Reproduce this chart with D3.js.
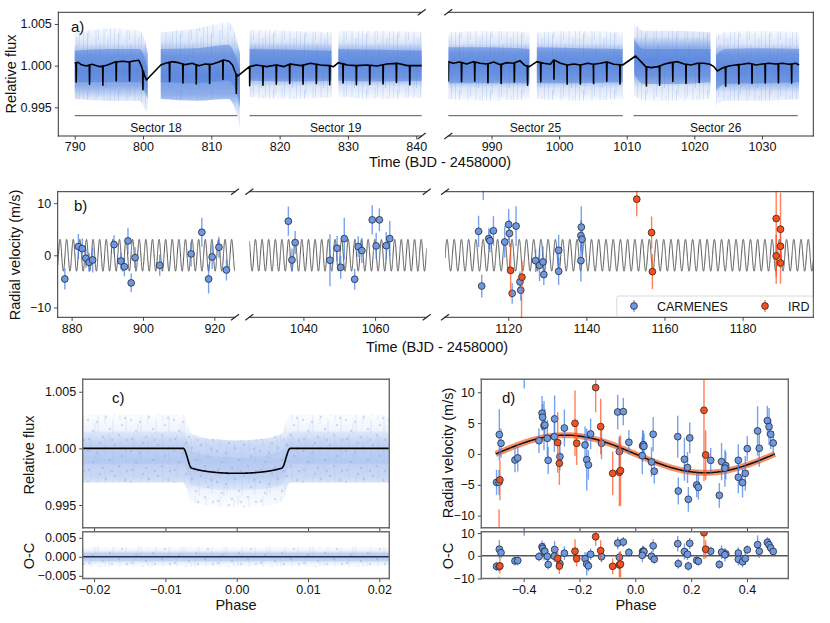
<!DOCTYPE html>
<html>
<head>
<meta charset="utf-8">
<script src="https://cdn.jsdelivr.net/npm/d3@7"></script>
<style>
  body { margin: 0; background: #fff; }
  svg { font-family: "Liberation Sans", Arial, Helvetica, sans-serif; }
</style>
</head>
<body>
<svg id="chart" width="830" height="623"></svg>
<script>
// ---------------- data ----------------

// a) TESS light curve
const lcDomains = [[787.6, 840.8], [983.6, 1037.6]];
const lcTicks = [[790, 800, 810, 820, 830, 840], [990, 1000, 1010, 1020, 1030]];
const fluxTicks = [0.995, 1.000, 1.005];

const sectorNames = ["Sector 18", "Sector 19", "Sector 25", "Sector 26"];
const sectorStart = [790.0, 815.6, 983.6, 1011.0];
const sectorEnd = [813.8, 842.0, 1009.4, 1035.3];

// envelope of the photometry: [time, hazeLo, coreLo, coreHi, hazeHi]
const cloud18a = [[790.0, .9960, .9980, 1.0018, 1.0040], [795.0, .9958, .9980, 1.0020, 1.0045], [799.5, .9958, .9980, 1.0020, 1.0042], [800.3, .9948, .9968, 1.0008, 1.0030], [800.7, .9943, .9960, .9995, 1.0015]];
const cloud18b = [[802.6, .9960, .9980, 1.0020, 1.0040], [808.0, .9958, .9979, 1.0021, 1.0045], [812.5, .9960, .9982, 1.0025, 1.0052], [813.6, .9945, .9970, 1.0010, 1.0035], [814.2, .9925, .9950, .9995, 1.0015]];
const cloud19a = [[815.6, .9962, .9982, 1.0020, 1.0043], [821.5, .9960, .9981, 1.0019, 1.0042], [827.6, .9962, .9982, 1.0018, 1.0040]];
const cloud19b = [[828.6, .9962, .9982, 1.0020, 1.0042], [835.0, .9960, .9981, 1.0019, 1.0042], [841.5, .9962, .9982, 1.0018, 1.0040]];
const cloud25a = [[983.6, .9960, .9979, 1.0022, 1.0040], [989.5, .9958, .9979, 1.0022, 1.0042], [995.6, .9960, .9979, 1.0020, 1.0040]];
const cloud25b = [[996.7, .9960, .9979, 1.0022, 1.0040], [1003.0, .9958, .9979, 1.0021, 1.0042], [1009.4, .9960, .9980, 1.0020, 1.0040]];
const cloud26a = [[1011.1, .9965, .9990, 1.0032, 1.0052], [1012.5, .9958, .9978, 1.0020, 1.0042], [1017.0, .9958, .9978, 1.0020, 1.0042], [1022.4, .9960, .9980, 1.0020, 1.0040]];
const cloud26b = [[1023.2, .9952, .9970, 1.0012, 1.0035], [1024.5, .9958, .9978, 1.0020, 1.0040], [1030.0, .9958, .9979, 1.0021, 1.0042], [1035.5, .9960, .9980, 1.0020, 1.0040]];
const cloudParts = [[cloud18a, cloud18b, cloud19a, cloud19b], [cloud25a, cloud25b, cloud26a, cloud26b]];

// model baseline (black line) knots
const baseLeftT = [790.0, 790.5, 791.0, 791.7, 792.5, 793.7, 794.7, 795.9, 797.1, 797.9, 798.6, 799.4, 799.8, 800.2, 800.5, 802.6, 803.3, 804.2, 805.2, 806.2, 807.2, 808.2, 809.1, 810.1, 811.1, 811.8, 812.6, 813.1, 813.6, 813.9, 815.6, 816.6, 818.1, 819.6, 820.6, 821.6, 823.1, 824.5, 826.0, 827.4, 827.9, 828.6, 829.9, 831.3, 832.8, 834.3, 835.7, 837.2, 838.7, 840.1, 841.5];
const baseLeftF = [1.0003, 1.0004, 1.0001, 0.99996, 1.00016, 0.99988, 1.00004, 1.00044, 1.00052, 1.00044, 1.00056, 1.00064, 0.99988, 0.99888, 0.99828, 1.00008, 1.00028, 1.00048, 1.00036, 1.00012, 1.00028, 1.0, 1.0002, 1.00016, 1.00044, 1.00068, 1.00052, 1.00008, 0.999, 0.99876, 0.99988, 1.00008, 0.99988, 1.00008, 0.99988, 1.0002, 1.0, 1.00028, 1.00008, 1.0, 0.99988, 1.00036, 1.00008, 1.0, 1.00008, 0.99996, 1.0002, 1.00028, 1.0, 1.0, 1.0];
const baseRightT = [983.6, 984.3, 985.3, 986.3, 987.3, 988.3, 989.3, 990.3, 991.3, 992.2, 993.2, 994.2, 994.9, 995.6, 996.7, 997.7, 998.7, 999.2, 1000.2, 1001.2, 1002.2, 1003.2, 1004.2, 1005.1, 1006.1, 1007.1, 1008.1, 1009.4, 1011.3, 1012.1, 1012.8, 1013.6, 1014.6, 1015.5, 1016.5, 1017.5, 1018.5, 1019.5, 1020.5, 1021.4, 1022.3, 1022.9, 1023.4, 1024.1, 1025.1, 1026.1, 1027.1, 1028.1, 1029.1, 1030.1, 1031.0, 1032.0, 1033.0, 1034.0, 1035.0, 1035.5];
const baseRightF = [1.00048, 1.00028, 1.00044, 1.0002, 1.00048, 1.00028, 1.0002, 1.00044, 1.00012, 1.00036, 1.00028, 1.0006, 1.00004, 0.99988, 1.00048, 1.00028, 1.00016, 1.00068, 1.00028, 1.00008, 1.0002, 1.00008, 1.00028, 1.00016, 1.00028, 1.00044, 1.00016, 1.00008, 1.00116, 1.00048, 0.99988, 0.99976, 0.99988, 1.00016, 1.00036, 1.00048, 1.0002, 1.00008, 1.00028, 1.00028, 1.00016, 0.99988, 0.99936, 0.99968, 0.99996, 1.00008, 1.00016, 1.00028, 1.00008, 1.0002, 1.00028, 1.0002, 1.00028, 1.00016, 1.00028, 1.00008];

// transit ephemeris of the model line and depth
const transitT0 = 790.22;
const transitPeriod = 1.9534;
const transitDepth = 0.0023;

// b) RV time series
const rvDomains = [[876.1, 925.8], [1024.9, 1074.4], [1103.8, 1198.1]];
const rvTicks = [[880, 900, 920], [1040, 1060], [1120, 1140, 1160, 1180]];
const rvYTicks = [-10, 0, 10];

const carmT = [878.1, 881.9, 883.0, 884.0, 884.9, 885.9, 891.9, 893.8, 894.8, 895.8, 896.7, 897.8, 904.7, 913.5, 916.5, 918.4, 919.4, 921.3, 923.4,
  1035.8, 1036.8, 1037.7, 1047.4, 1049.4, 1050.4, 1051.4, 1054.3, 1055.3, 1056.3, 1059.2, 1060.3, 1061.2, 1063.1, 1064.1,
  1112.4, 1113.2, 1113.6, 1115.0, 1115.3, 1116.2, 1119.1, 1120.1, 1120.3, 1121.0, 1122.0, 1123.0, 1123.2, 1127.0, 1128.0, 1128.9, 1129.1, 1132.9, 1132.9, 1138.7, 1138.6, 1138.9, 1138.6];
const carmV = [-4.55, 1.67, 1.28, -0.58, -1.35, -0.9, 2.05, -1.1, -2.2, 2.76, -5.3, -0.45, -1.92, 0.26, 4.42, -4.55, -0.32, 1.54, -2.82,
  6.54, -0.9, 2.44, -0.96, 1.35, -2.3, 3.2, -4.6, 1.67, 0.9, 6.8, 1.8, 6.8, 1.85, 3.2,
  4.6, -5.9, 14.0, 3.2, 2.8, 4.7, 2.56, 5.9, 4.2, -7.3, 5.6, -5.1, -6.7, -1.03, -1.92, -1.28, -3.7, 0.96, -3.08, 5.4, 3.78, 3.08, -1.03];
const carmE = [2.0, 2.4, 2.0, 1.8, 1.8, 2.4, 1.8, 1.6, 1.8, 2.5, 1.8, 2.0, 2.0, 2.4, 2.8, 2.8, 2.3, 2.0, 2.0,
  2.8, 2.2, 2.2, 5.0, 2.4, 2.2, 4.0, 2.0, 2.0, 2.4, 2.8, 2.5, 2.2, 2.6, 3.4,
  3.0, 2.2, 3.4, 2.0, 2.2, 2.8, 3.0, 3.0, 2.6, 2.0, 3.8, 2.0, 2.0, 2.2, 3.0, 3.0, 2.0, 3.0, 2.6, 4.0, 3.0, 3.0, 4.0];

const irdT = [1120.6, 1123.5, 1123.4, 1152.9, 1156.7, 1156.9, 1188.6, 1189.7, 1189.7, 1188.6, 1189.7];
const irdV = [-2.9, -4.2, -15.0, 10.77, 4.36, -3.14, 7.05, 5.0, 1.73, -0.13, -1.48];
const irdE = [5.2, 3.2, 7.5, 3.3, 3.1, 3.4, 12.5, 7.0, 4.0, 4.0, 4.0];

// Keplerian model (as drawn in b, d)
const rvK = 3.05;
const rvShownPeriod = 1.85;
const rvT0 = 880.0;

// c) phase-folded transit
const cDomain = [-0.0216, 0.0214];
const cTicks = [-0.02, -0.01, 0.00, 0.01, 0.02];
const cResTicks = [-0.005, 0.000, 0.005];
const cBandPhase = [-0.0216, -0.0075, -0.0063, -0.003, 0, 0.003, 0.0063, 0.0075, 0.0214];
const cCoreHi = [1.0015, 1.0015, 0.9998, 0.9993, 0.9992, 0.9993, 0.9998, 1.0015, 1.0015];
const cCoreLo = [0.9986, 0.9986, 0.9968, 0.9964, 0.9963, 0.9964, 0.9968, 0.9986, 0.9986];
const cHazeHi = [1.0030, 1.0030, 1.0013, 1.0008, 1.0007, 1.0008, 1.0013, 1.0030, 1.0030];
const cHazeLo = [0.9970, 0.9970, 0.9953, 0.9949, 0.9948, 0.9949, 0.9953, 0.9970, 0.9970];
const cResPhase = [-0.0216, 0.0214];
const cResCore = [-0.0011, 0.0011];
const cResHaze = [-0.0026, 0.0026];
// transit shape: depth at centre, half T14, half T23, limb darkening
const trDepth = 0.0022;
const trHalf14 = 0.0075;
const trHalf23 = 0.0063;
const trLimb = 0.45;

// d) phase-folded RVs
const dTicks = [-0.4, -0.2, 0.0, 0.2, 0.4];
const dYTicks = [-10, -5, 0, 5, 10];
const dResTicks = [-10, 0, 10];
const dPhaseC = [-0.497, -0.488, -0.487, -0.481, -0.431, -0.421, -0.398, -0.345, -0.334, -0.332, -0.327, -0.324, -0.315, -0.312, -0.289, -0.290, -0.270, -0.254, -0.180, -0.174, -0.168, -0.160, -0.121, -0.063, -0.057, -0.043, -0.023, 0.026, 0.029, 0.031, 0.025, 0.058, 0.068, 0.064, 0.152, 0.154, 0.176, 0.187, 0.190, 0.195, 0.220, 0.226, 0.270, 0.301, 0.309, 0.324, 0.321, 0.369, 0.369, 0.384, 0.394, 0.401, 0.438, 0.444, 0.473, 0.479, 0.485, 0.494];
const dRvC = [-4.6, -4.6, 3.14, 1.73, -0.97, -0.65, 14.0, 2.16, 6.6, 5.95, 4.6, 4.7, 2.54, -1.03, 5.68, 2.8, -0.43, 4.2, 1.46, -0.92, -1.78, 3.24, 1.73, 6.8, 0.38, 6.86, 1.89, 1.3, 1.51, 1.24, -0.27, -1.3, -2.8, 3.19, 2.8, -6.0, -0.86, -2.2, -7.35, 2.6, -5.03, -5.4, -1.03, -6.7, -1.24, -1.9, -2.3, -1.03, -3.78, -4.65, -3.14, 0.86, 3.73, 0.92, 5.4, 4.43, 3.19, 1.78];
const dErrC = [2.0, 2.0, 4.1, 2.4, 2.0, 2.2, 3.4, 2.0, 2.8, 2.2, 4.0, 2.6, 3.0, 2.2, 3.8, 2.5, 2.2, 3.0, 3.0, 5.0, 2.4, 2.5, 2.6, 2.8, 2.5, 2.2, 2.0, 2.6, 2.2, 2.0, 3.0, 2.4, 2.0, 2.8, 3.4, 2.2, 3.5, 2.5, 2.0, 2.5, 2.0, 2.0, 2.0, 2.0, 3.0, 2.2, 3.0, 2.6, 2.6, 2.4, 2.8, 2.0, 4.0, 3.0, 2.4, 3.0, 2.4, 2.0];
const dPhaseI = [-0.488, -0.485, -0.278, -0.272, -0.216, -0.210, -0.142, -0.124, -0.081, -0.057, -0.053, 0.246, 0.252];
const dRvI = [-15.0, -4.2, 1.84, -1.51, 4.97, 1.73, 10.76, 4.43, -3.14, -2.97, -2.7, 7.08, -0.16];
const dErrI = [6.0, 3.3, 4.9, 3.5, 5.3, 3.5, 4.0, 4.5, 3.5, 5.5, 5.7, 11.5, 4.0];

// ---------------- drawing ----------------
const svg = d3.select("#chart");
const blueFill = "#6c98e4", blueBar = "#3f7be8";
const redFill = "#f4511e", redBar = "#ff4a14";
const tickFont = "12.5px", labelFont = "14.5px";

// soft fill styles for the dense photometry
const defs = svg.append("defs");
function fadeGradient(id, color, peak) {
  const gr = defs.append("linearGradient").attr("id", id)
    .attr("x1", 0).attr("y1", 0).attr("x2", 0).attr("y2", 1);
  [[0, 0.04], [0.18, 0.25], [0.32, 0.8], [0.5, 1], [0.68, 0.8], [0.82, 0.25], [1, 0.04]].forEach(([o, k]) =>
    gr.append("stop").attr("offset", o).attr("stop-color", color).attr("stop-opacity", peak * k));
}
fadeGradient("hazeA", "#4f80de", 0.8);
fadeGradient("hazeC", "#6f97e2", 0.45);

// irregular vertical "error bar" texture for panel a
const strokesA = defs.append("pattern").attr("id", "strokesA").attr("patternUnits", "userSpaceOnUse")
  .attr("width", 31).attr("height", 57);
[[1, 0, 22], [3, 30, 57], [5.5, 8, 40], [7, 44, 57], [9.5, 0, 17], [11, 21, 50], [13.5, 5, 31],
 [15, 38, 57], [17.5, 14, 46], [19, 0, 9], [21.5, 26, 54], [23, 3, 24], [25.5, 33, 57], [27, 10, 38], [29.5, 45, 57], [29.5, 0, 20]]
  .forEach(([x, y1, y2], i) =>
    strokesA.append("line").attr("x1", x).attr("x2", x).attr("y1", y1).attr("y2", y2)
      .attr("stroke", i % 3 ? "#7ea3ea" : "#5b88de").attr("stroke-width", 0.8).attr("stroke-opacity", 0.32));

// speckled texture for panel c
const dotsC = defs.append("pattern").attr("id", "dotsC").attr("patternUnits", "userSpaceOnUse")
  .attr("width", 43).attr("height", 31);
[[3, 5], [11, 19], [17, 3], [24, 26], [29, 11], [36, 22], [41, 6], [7, 28], [20, 14], [33, 1], [14, 9], [39, 15], [26, 6], [2, 17]]
  .forEach(([x, y]) =>
    dotsC.append("circle").attr("cx", x).attr("cy", y).attr("r", 1.2).attr("fill", "#6f97e2").attr("fill-opacity", 0.3));
[[5, 0, 13], [12, 10, 29], [19, 4, 21], [27, 16, 31], [34, 2, 18], [40, 12, 29], [9, 20, 31], [23, 0, 9]]
  .forEach(([x, y1, y2]) =>
    dotsC.append("line").attr("x1", x).attr("x2", x).attr("y1", y1).attr("y2", y2)
      .attr("stroke", "#9ab8ee").attr("stroke-width", 0.8).attr("stroke-opacity", 0.35));

let clipCount = 0;
function makeClip(x0, y0, x1, y1) {
  const id = "clip" + (clipCount++);
  svg.append("clipPath").attr("id", id).append("rect")
    .attr("x", x0).attr("y", y0).attr("width", x1 - x0).attr("height", y1 - y0);
  return "url(#" + id + ")";
}

function spines(x0, x1, y0, y1, sides, color, width) {
  const g = svg.append("g").attr("stroke", color).attr("stroke-width", width).attr("stroke-linecap", "square");
  if (sides.includes("t")) g.append("line").attr("x1", x0).attr("x2", x1).attr("y1", y0).attr("y2", y0);
  if (sides.includes("b")) g.append("line").attr("x1", x0).attr("x2", x1).attr("y1", y1).attr("y2", y1);
  if (sides.includes("l")) g.append("line").attr("x1", x0).attr("x2", x0).attr("y1", y0).attr("y2", y1);
  if (sides.includes("r")) g.append("line").attr("x1", x1).attr("x2", x1).attr("y1", y0).attr("y2", y1);
}

function breakMark(x, y) {
  svg.append("line")
    .attr("x1", x - 4).attr("y1", y + 3).attr("x2", x + 4).attr("y2", y - 3)
    .attr("stroke", "#222").attr("stroke-width", 1.1);
}

function styleAxis(g, labels) {
  g.select(".domain").remove();
  g.selectAll(".tick line").attr("stroke", "#333").attr("stroke-width", 0.9);
  g.selectAll(".tick text").attr("fill", "#111").style("font-size", tickFont)
    .style("font-family", '"Liberation Sans", Arial, sans-serif');
  if (!labels) g.selectAll(".tick text").remove();
}

function xAxis(scale, y, ticks, fmt, labels = true) {
  const g = svg.append("g").attr("transform", `translate(0,${y})`)
    .call(d3.axisBottom(scale).tickValues(ticks).tickFormat(fmt).tickSize(3.5).tickPadding(3));
  styleAxis(g, labels);
}

function yAxis(scale, x, ticks, fmt) {
  const g = svg.append("g").attr("transform", `translate(${x},0)`)
    .call(d3.axisLeft(scale).tickValues(ticks).tickFormat(fmt).tickSize(3.5).tickPadding(3));
  styleAxis(g, true);
}

function text(x, y, s, size, anchor = "middle", rotate = false) {
  const t = svg.append("text").attr("x", x).attr("y", y).text(s)
    .attr("text-anchor", anchor).style("font-size", size).attr("fill", "#111");
  if (rotate) t.attr("transform", `rotate(-90,${x},${y})`);
  return t;
}

function errorPoints(g, xs, ys, es, x, y, fill, bar) {
  const idx = d3.range(xs.length);
  g.append("g").selectAll("line").data(idx).join("line")
    .attr("x1", i => x(xs[i])).attr("x2", i => x(xs[i]))
    .attr("y1", i => y(ys[i] - es[i])).attr("y2", i => y(ys[i] + es[i]))
    .attr("stroke", bar).attr("stroke-width", 1.4).attr("stroke-opacity", 0.7);
  g.append("g").selectAll("circle").data(idx).join("circle")
    .attr("cx", i => x(xs[i])).attr("cy", i => y(ys[i])).attr("r", 3.4)
    .attr("fill", fill).attr("stroke", "#2a2a2a").attr("stroke-width", 0.8);
}

// ===== panel a =====
const aTop = 12.3, aBottom = 136;
const aRanges = [[58.3, 421.7], [448.3, 813.3]];
const yA = d3.scaleLinear().domain([0.99156, 1.0064]).range([aBottom, aTop]);
const baseT = [baseLeftT, baseRightT], baseF = [baseLeftF, baseRightF];

aRanges.forEach((r, p) => {
  const x = d3.scaleLinear().domain(lcDomains[p]).range(r);
  const g = svg.append("g").attr("clip-path", makeClip(r[0], aTop, r[1], aBottom));

  // photometry cloud
  cloudParts[p].forEach(seg => {
    const haze = d3.area().x(d => x(d[0])).y0(d => yA(d[1])).y1(d => yA(d[4])).curve(d3.curveMonotoneX);
    g.append("path").datum(seg).attr("d", haze).attr("fill", "url(#hazeA)");
    g.append("path").datum(seg).attr("d", haze).attr("fill", "url(#strokesA)");
    g.append("path").datum(seg)
      .attr("d", d3.area().x(d => x(d[0])).y0(d => yA(d[2])).y1(d => yA(d[3])).curve(d3.curveMonotoneX))
      .attr("fill", "#4677d8").attr("fill-opacity", 0.45);
  });

  // model: baseline knots plus transit dips inside observed windows
  const base = d3.scaleLinear().domain(baseT[p]).range(baseF[p]);
  const pts = baseT[p].map((t, i) => [t, baseF[p][i]]);
  const nLo = Math.ceil((lcDomains[p][0] - transitT0) / transitPeriod);
  const nHi = Math.floor((lcDomains[p][1] + 1 - transitT0) / transitPeriod);
  for (let n = nLo; n <= nHi; n++) {
    const tc = transitT0 + n * transitPeriod;
    const inside = cloudParts[p].some(s => tc >= s[0][0] - 0.05 && tc <= s[s.length - 1][0] + 0.05);
    if (!inside) continue;
    const b = base(tc);
    pts.push([tc - 0.04, b], [tc, b - transitDepth], [tc + 0.04, b]);
  }
  pts.sort((a, b) => a[0] - b[0]);
  g.append("path").datum(pts)
    .attr("d", d3.line().x(d => x(d[0])).y(d => yA(d[1])))
    .attr("fill", "none").attr("stroke", "#000").attr("stroke-width", 1.6).attr("stroke-linejoin", "round");

  // sector bars
  sectorNames.forEach((name, i) => {
    const s = Math.max(sectorStart[i], lcDomains[p][0]), e = Math.min(sectorEnd[i], lcDomains[p][1]);
    if (e <= s) return;
    svg.append("line").attr("x1", x(sectorStart[i])).attr("x2", Math.min(x(sectorEnd[i]), r[1]))
      .attr("y1", 115.7).attr("y2", 115.7).attr("stroke", "#555").attr("stroke-width", 1);
    text(x((s + e) / 2), 132.3, name, "12px");
  });

  xAxis(x, aBottom, lcTicks[p], d3.format("d"));
  spines(r[0], r[1], aTop, aBottom, p === 0 ? "tbl" : "tbr", "#333", 1);
});
yAxis(yA, aRanges[0][0], fluxTicks, d3.format(".3f"));
breakMark(aRanges[0][1], aTop); breakMark(aRanges[0][1], aBottom);
breakMark(aRanges[1][0], aTop); breakMark(aRanges[1][0], aBottom);
text(16, 74, "Relative flux", labelFont, "middle", true);
text(440, 167, "Time (BJD - 2458000)", labelFont);
text(71, 32, "a)", "15px", "start");

// ===== panel b =====
const bTop = 191.7, bBottom = 317.3;
const bRanges = [[57.7, 235], [249.3, 426.7], [445, 813.3]];
const yB = d3.scaleLinear().domain([-11.9, 12.2]).range([bBottom, bTop]);

bRanges.forEach((r, p) => {
  const x = d3.scaleLinear().domain(rvDomains[p]).range(r);
  const g = svg.append("g").attr("clip-path", makeClip(r[0], bTop - 1, r[1], bBottom + 1));
  const ts = d3.range(rvDomains[p][0], rvDomains[p][1], 0.02);
  g.append("path").datum(ts)
    .attr("d", d3.line().x(t => x(t)).y(t => yB(rvK * Math.sin(2 * Math.PI * (t - rvT0) / rvShownPeriod))))
    .attr("fill", "none").attr("stroke", "#555").attr("stroke-width", 1);
  const inC = d3.range(carmT.length).filter(i => carmT[i] >= rvDomains[p][0] && carmT[i] <= rvDomains[p][1]);
  errorPoints(g, inC.map(i => carmT[i]), inC.map(i => carmV[i]), inC.map(i => carmE[i]), x, yB, blueFill, blueBar);
  const inI = d3.range(irdT.length).filter(i => irdT[i] >= rvDomains[p][0] && irdT[i] <= rvDomains[p][1]);
  errorPoints(g, inI.map(i => irdT[i]), inI.map(i => irdV[i]), inI.map(i => irdE[i]), x, yB, redFill, redBar);

  xAxis(x, bBottom, rvTicks[p], d3.format("d"));
  const sides = p === 0 ? "tbl" : p === 1 ? "tb" : "tbr";
  spines(r[0], r[1], bTop, bBottom, sides, "#333", 1);
  if (p < 2) { breakMark(r[1], bTop); breakMark(r[1], bBottom); }
  if (p > 0) { breakMark(r[0], bTop); breakMark(r[0], bBottom); }
});
yAxis(yB, bRanges[0][0], rvYTicks, d3.format("d"));
text(20, 255, "Radial velocity (m/s)", labelFont, "middle", true);
text(437, 352, "Time (BJD - 2458000)", labelFont);
text(74, 211, "b)", "15px", "start");

// legend
const lg = svg.append("g");
lg.append("rect").attr("x", 616.7).attr("y", 296).attr("width", 196).attr("height", 20.5)
  .attr("rx", 2).attr("fill", "#fff").attr("fill-opacity", 0.85).attr("stroke", "#d0d0d0").attr("stroke-width", 0.8);
[[634, "CARMENES", blueFill, blueBar], [765, "IRD", redFill, redBar]].forEach(([lx, name, f, b]) => {
  lg.append("line").attr("x1", lx).attr("x2", lx).attr("y1", 300).attr("y2", 312).attr("stroke", b).attr("stroke-width", 1.4).attr("stroke-opacity", 0.7);
  lg.append("circle").attr("cx", lx).attr("cy", 306).attr("r", 3.4).attr("fill", f).attr("stroke", "#2a2a2a").attr("stroke-width", 0.8);
  lg.append("text").attr("x", lx + 23).attr("y", 310.5).text(name).style("font-size", "12.5px").attr("fill", "#111");
});

// ===== panel c =====
const cLeft = 82.7, cRight = 389.3, mTop = 379.3, mBottom = 527.7, rTop = 531.7, rBottom = 578.5;
const xC = d3.scaleLinear().domain(cDomain).range([cLeft, cRight]);
const yC = d3.scaleLinear().domain([0.993, 1.0061]).range([mBottom, mTop]);
const yCr = d3.scaleLinear().domain([-0.0057, 0.0066]).range([rBottom, rTop]);

function transitModel(ph) {
  const a = Math.abs(ph);
  if (a >= trHalf14) return 1;
  const inner = z => 1 - trDepth * (1 - trLimb * (1 - Math.sqrt(Math.max(0, 1 - (z / trHalf14) ** 2))));
  if (a <= trHalf23) return inner(a);
  const s = (trHalf14 - a) / (trHalf14 - trHalf23);
  const sm = s * s * (3 - 2 * s);
  return 1 - (1 - inner(trHalf23)) * sm;
}

const gc = svg.append("g").attr("clip-path", makeClip(cLeft, mTop, cRight, mBottom));
const cIdx = d3.range(cBandPhase.length);
const cHaze = d3.area().x(i => xC(cBandPhase[i])).y0(i => yC(cHazeLo[i])).y1(i => yC(cHazeHi[i])).curve(d3.curveMonotoneX);
gc.append("path").datum(cIdx).attr("d", cHaze).attr("fill", "url(#hazeC)");
gc.append("path").datum(cIdx).attr("d", cHaze).attr("fill", "url(#dotsC)");
gc.append("path").datum(cIdx)
  .attr("d", d3.area().x(i => xC(cBandPhase[i])).y0(i => yC(cCoreLo[i])).y1(i => yC(cCoreHi[i])).curve(d3.curveMonotoneX))
  .attr("fill", "#6f97e2").attr("fill-opacity", 0.1);
gc.append("path").datum(d3.range(cDomain[0], cDomain[1], 0.00005))
  .attr("d", d3.line().x(p => xC(p)).y(p => yC(transitModel(p))))
  .attr("fill", "none").attr("stroke", "#000").attr("stroke-width", 1.6);

const gcr = svg.append("g").attr("clip-path", makeClip(cLeft, rTop, cRight, rBottom));
const resBox = (lo, hi) => gcr.append("rect").attr("x", xC(cResPhase[0])).attr("width", xC(cResPhase[1]) - xC(cResPhase[0]))
  .attr("y", yCr(hi)).attr("height", yCr(lo) - yCr(hi));
resBox(cResHaze[0], cResHaze[1]).attr("fill", "url(#hazeC)");
resBox(cResHaze[0], cResHaze[1]).attr("fill", "url(#dotsC)");
resBox(cResCore[0], cResCore[1]).attr("fill", "#6f97e2").attr("fill-opacity", 0.1);
gcr.append("line").attr("x1", cLeft).attr("x2", cRight).attr("y1", yCr(0)).attr("y2", yCr(0))
  .attr("stroke", "#26324a").attr("stroke-width", 1.5);

xAxis(xC, mBottom, cTicks, d3.format(".2f"), false);
xAxis(xC, rBottom, cTicks, d3.format(".2f"));
yAxis(yC, cLeft, fluxTicks, d3.format(".3f"));
yAxis(yCr, cLeft, cResTicks, d3.format(".3f"));
spines(cLeft, cRight, mTop, mBottom, "tblr", "#6b6b6b", 1.4);
spines(cLeft, cRight, rTop, rBottom, "tblr", "#6b6b6b", 1.4);
text(34, 455, "Relative flux", labelFont, "middle", true);
text(34, 556, "O-C", labelFont, "middle", true);
text(236, 610, "Phase", labelFont);
text(112, 403, "c)", "15px", "start");

// ===== panel d =====
const dLeft = 481.3, dRight = 788.3;
const xD = d3.scaleLinear().domain([-0.5516, 0.548]).range([dLeft, dRight]);
const yD = d3.scaleLinear().domain([-11.95, 12.1]).range([mBottom, mTop]);
const yDr = d3.scaleLinear().domain([-10, 10.6]).range([rBottom, rTop]);
const rvModel = ph => -rvK * Math.sin(2 * Math.PI * ph);

const gd = svg.append("g").attr("clip-path", makeClip(dLeft, mTop, dRight, mBottom));
const phs = d3.range(-0.5, 0.5001, 0.005);
gd.append("path").datum(phs).attr("d", d3.line().x(p => xD(p)).y(p => yD(rvModel(p))))
  .attr("fill", "none").attr("stroke", "#f26a35").attr("stroke-opacity", 0.75).attr("stroke-width", 6);
gd.append("path").datum(phs).attr("d", d3.line().x(p => xD(p)).y(p => yD(rvModel(p))))
  .attr("fill", "none").attr("stroke", "#111").attr("stroke-width", 1.5);
errorPoints(gd, dPhaseC, dRvC, dErrC, xD, yD, blueFill, blueBar);
errorPoints(gd, dPhaseI, dRvI, dErrI, xD, yD, redFill, redBar);

const gdr = svg.append("g").attr("clip-path", makeClip(dLeft, rTop, dRight, rBottom));
gdr.append("line").attr("x1", dLeft).attr("x2", dRight).attr("y1", yDr(0)).attr("y2", yDr(0))
  .attr("stroke", "#555").attr("stroke-width", 1.5);
errorPoints(gdr, dPhaseC, dRvC.map((v, i) => v - rvModel(dPhaseC[i])), dErrC, xD, yDr, blueFill, blueBar);
errorPoints(gdr, dPhaseI, dRvI.map((v, i) => v - rvModel(dPhaseI[i])), dErrI, xD, yDr, redFill, redBar);

xAxis(xD, mBottom, dTicks, d3.format(".1f"), false);
xAxis(xD, rBottom, dTicks, d3.format(".1f"));
yAxis(yD, dLeft, dYTicks, d3.format("d"));
yAxis(yDr, dLeft, dResTicks, d3.format("d"));
spines(dLeft, dRight, mTop, mBottom, "tblr", "#6b6b6b", 1.4);
spines(dLeft, dRight, rTop, rBottom, "tblr", "#6b6b6b", 1.4);
text(453, 453, "Radial velocity (m/s)", labelFont, "middle", true);
text(453, 556, "O-C", labelFont, "middle", true);
text(636, 610, "Phase", labelFont);
text(502, 403, "d)", "15px", "start");
</script>
</body>
</html>
